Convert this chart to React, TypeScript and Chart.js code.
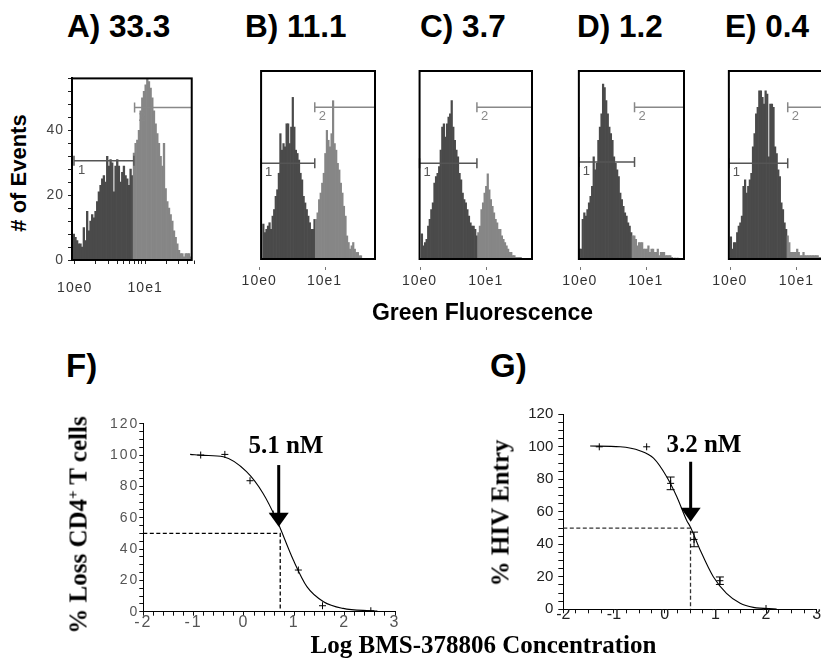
import React, { useEffect, useRef } from 'react';
import { Chart, registerables } from 'chart.js';

Chart.register(...registerables);

// ---------------- Histogram data (panels A–E) ----------------
// counts per fluorescence channel; channels are log10 bins
const HIST_BIN_WIDTH = 0.0237;
const histTitles = ['A) 33.3', 'B) 11.1', 'C) 3.7', 'D) 1.2', 'E) 0.4'];
const histBinStart = [-0.024, 0.052, 0.024, -0.014, 0.005];
const histDarkBins = [36, 34, 36, 34, 36];
const histCountsA = [8, 7, 6, 5, 5, 4, 10, 6, 15, 9, 12, 14, 13, 15, 18, 21, 23, 25, 26, 24, 32, 29, 31, 30, 21, 29, 31, 29, 24, 27, 29, 26, 25, 23, 28, 26,
  33, 36, 37, 40, 46, 50, 52, 54, 57, 55, 53, 50, 46, 42, 39, 36, 32, 29, 36, 22, 18, 16, 14, 12, 9, 7, 5, 3, 2, 2, 1, 2, 2, 2, 1, 1, 1, 1];
const histCountsB = [10.6, 8, 9, 10, 11, 9, 13, 15, 19, 21, 26, 38, 33, 35, 34, 41, 41, 35, 40, 49, 40, 33, 32, 30, 26, 24, 19, 17, 15, 13, 11, 9, 9, 12,
  12, 14, 18, 20, 23, 26, 32, 39, 36, 34, 38, 48, 35, 33, 29, 27, 23, 20, 16, 13, 7, 5, 3, 4, 5, 3, 2, 2, 1, 1, 0, 0, 0, 0, 0, 0, 0, 0];
const histCountsC = [7.6, 4, 5, 6, 10, 12, 15, 17, 23, 25, 26, 28, 33, 40, 41, 37, 41, 43, 44, 48, 40, 36, 33, 31, 26, 24, 20, 18, 17, 15, 13, 11, 10, 10, 9, 7,
  8, 10, 15, 17, 20, 22, 25.8, 21, 18, 16, 14, 12, 11, 9, 9, 7, 6, 5, 4, 3, 2, 2, 1, 1, 0.5, 0.5, 0.5, 0.5];
const histCountsD = [3, 3, 12, 14, 13, 15, 17, 19, 22, 31, 27, 29, 36, 40, 44, 53, 52, 48, 44, 40, 38, 36, 31, 29, 27, 25, 20, 18, 16, 14, 13, 11, 10, 8,
  7, 7, 6, 4, 5, 5, 5, 3, 3, 3, 4, 2, 3, 3, 2, 2, 3, 1, 2, 2, 2, 1, 1, 1, 1, 0.5, 0.3, 0.3, 0.3, 0.3];
const histCountsE = [6.7, 3, 5, 5, 8, 10, 11, 13, 22, 24, 20, 22, 24, 26, 34, 38, 44, 46, 51, 51, 49, 47, 51, 50, 31, 47, 47, 46, 34, 32, 27, 25, 17, 15, 11, 9,
  7, 5, 2, 2, 2, 2, 3, 2, 1, 1, 2, 1, 1, 1, 1, 1, 1, 1, 1, 1, 0.5, 0.5, 0.5, 0.5, 0.3, 0.3, 0.3, 0.3, 0.3, 0.3];
const histCounts = [histCountsA, histCountsB, histCountsC, histCountsD, histCountsE];

const histMajorTicks = [1, 10];
const histAllTicks = [1, 2, 3, 4, 5, 6, 7, 8, 9, 10, 20, 30, 40, 50];
const histTickLabels = ['10e0', '10e1'];
const histYTickLabels = ['0', '20', '40'];

// gates (marker 1 and marker 2)
const gate1Level = [30.6, 29, 29, 29.4, 29];
const gate1Start = [-0.01, 0.029, 0.0, -0.014, -0.014];
const gate1End = [0.84, 0.85, 0.867, 0.83, 0.87];
const gate2Level = [47, 46, 46, 46, 46];
const gate2Start = [0.85, 0.85, 0.867, 0.83, 0.87];
const gate2End = [1.661, 1.771, 1.7, 1.58, 1.565];

// ---------------- Dose-response data (panels F, G) ----------------
const doseXTickLabels = ['-2', '-1', '0', '1', '2', '3'];
const doseYTickLabels = ['0', '20', '40', '60', '80', '100', '120'];

const fCurveX = [-1.07, -0.8, -0.41, 0.05, 0.38, 0.65, 0.98, 1.25, 1.58, 1.97, 2.5, 2.65];
const fCurveY = [100.4, 99.8, 98.9, 89.4, 75.5, 58.5, 33, 16, 6.4, 2.1, 0.6, 0.4];
const fPointX = [-0.86, -0.38, 0.12, 0.58, 1.08, 1.56, 2.52];
const fPointY = [100, 100.4, 83.6, 62.3, 26.6, 3.8, 0.6];
const fPointErr = [0, 0, 0, 0, 0, 0, 0];
const fIC50 = 0.72;
const fLabel = '5.1 nM';

const gCurveX = [-1.47, -0.88, -0.49, -0.22, 0.04, 0.24, 0.43, 0.51, 0.7, 0.96, 1.22, 1.49, 1.75, 2.21];
const gCurveY = [100.5, 100, 97.6, 93, 81.6, 69.3, 55, 50.5, 36.5, 20, 9.8, 3.7, 1.2, 0.2];
const gPointX = [-1.29, -0.355, 0.118, 0.58, 1.09, 2.0];
const gPointY = [100, 100, 77.5, 43, 17.6, 0.5];
const gPointErr = [0, 0, 3.9, 4.5, 2.3, 0];
const gIC50 = 0.51;
const gLabel = '3.2 nM';

// ---------------- Layout ----------------
const SANS = '"Liberation Sans", Arial, sans-serif';
const SERIF = '"Liberation Serif", "Times New Roman", serif';
const DARK = '#4a4a4a';
const LIGHT = '#868686';

const histLayout = [
  { left: 40, top: 66, width: 170, height: 234, l: 72, t: 75, r: 192, b: 260, xMin: -0.038, xMax: 1.661, yMax: 56 },
  { left: 230, top: 60, width: 160, height: 240, l: 253, t: 71, r: 375, b: 259, xMin: 0.029, xMax: 1.771, yMax: 57 },
  { left: 390, top: 60, width: 160, height: 240, l: 413, t: 71, r: 532, b: 259, xMin: 0.0, xMax: 1.7, yMax: 57 },
  { left: 550, top: 60, width: 150, height: 240, l: 574, t: 71, r: 684, b: 259, xMin: -0.014, xMax: 1.58, yMax: 57 },
  { left: 700, top: 60, width: 150, height: 240, l: 725, t: 71, r: 834, b: 259, xMin: -0.014, xMax: 1.565, yMax: 57 },
];
const histTitleLeft = [67, 245, 420, 577, 725];

const doseF = {
  box: { left: 90, top: 405, width: 320, height: 235, l: 143.3, t: 423.7, r: 395, b: 611.7 },
  curveX: fCurveX, curveY: fCurveY, pointX: fPointX, pointY: fPointY, err: fPointErr,
  ic50: fIC50, label: fLabel, labelX: 0.833, labelY: 101.1, arrowX: 0.69, arrowTop: 93.6, arrowTip: 54.2,
  dashColor: '#000', tickColor: '#555', spacing: '2px', yPad: 0, yTick: 4, xPad: -3, xStep: 0.2, yFont: 14, xFont: 16,
};
const doseG = {
  box: { left: 505, top: 400, width: 325, height: 240, l: 563.3, t: 414.3, r: 816.7, b: 609.3 },
  curveX: gCurveX, curveY: gCurveY, pointX: gPointX, pointY: gPointY, err: gPointErr,
  ic50: gIC50, label: gLabel, labelX: 0.775, labelY: 97, arrowX: 0.513, arrowTop: 90.8, arrowTip: 53.9,
  dashColor: '#333', tickColor: '#222', spacing: '0px', yPad: 5, yTick: 5, xPad: -8, xStep: 0.25, yFont: 15, xFont: 16,
};

// ---------------- Plugins ----------------
const tickSpacing = {
  id: 'tickSpacing',
  beforeDraw(chart: any, _a: any, o: any) {
    (chart.ctx as any).letterSpacing = (o && o.value) || '0px';
  },
};

const histDecor = {
  id: 'histDecor',
  afterDatasetsDraw(chart: any, _a: any, o: any) {
    const { ctx, chartArea: ca, scales } = chart;
    const x = scales.x;
    const y = scales.y;
    ctx.save();
    (ctx as any).letterSpacing = '0px';
    const drawGate = (s: number, e: number, lv: number, color: string, label: string, capEnd: boolean) => {
      const p0 = x.getPixelForValue(s);
      const p1 = x.getPixelForValue(e);
      const py = y.getPixelForValue(lv);
      ctx.strokeStyle = color;
      ctx.lineWidth = 1.5;
      ctx.beginPath();
      ctx.moveTo(p0, py);
      ctx.lineTo(p1, py);
      ctx.moveTo(p0, py - 5);
      ctx.lineTo(p0, py + 5);
      if (capEnd) {
        ctx.moveTo(p1, py - 5);
        ctx.lineTo(p1, py + 5);
      }
      ctx.stroke();
      ctx.fillStyle = color;
      ctx.font = '13px ' + SANS;
      ctx.textAlign = 'left';
      ctx.textBaseline = 'top';
      ctx.fillText(label, p0 + 4, py + 3);
    };
    drawGate(o.g1Start, o.g1End, o.g1Level, '#555', '1', true);
    drawGate(o.g2Start, o.g2End, o.g2Level, '#888', '2', false);
    ctx.strokeStyle = '#000';
    ctx.lineWidth = 2;
    ctx.strokeRect(ca.left, ca.top, ca.right - ca.left, ca.bottom - ca.top);
    if (o.smallTicks) {
      ctx.strokeStyle = '#777';
      ctx.lineWidth = 1;
      ctx.beginPath();
      o.smallTicks.forEach((v: number) => {
        const px = Math.round(x.getPixelForValue(v)) + 0.5;
        ctx.moveTo(px, ca.bottom + 8);
        ctx.lineTo(px, ca.bottom + 11);
      });
      ctx.stroke();
    }
    ctx.restore();
  },
};

const doseDecor = {
  id: 'doseDecor',
  afterDatasetsDraw(chart: any, _a: any, o: any) {
    const { ctx, scales } = chart;
    const x = scales.x;
    const y = scales.y;
    ctx.save();
    (ctx as any).letterSpacing = '0px';
    ctx.strokeStyle = '#000';
    ctx.lineWidth = 1;
    o.pointX.forEach((xv: number, i: number) => {
      const e = o.err[i];
      if (!e) return;
      const px = x.getPixelForValue(xv);
      const top = y.getPixelForValue(o.pointY[i] + e);
      const bot = y.getPixelForValue(o.pointY[i] - e);
      ctx.beginPath();
      ctx.moveTo(px, top);
      ctx.lineTo(px, bot);
      ctx.moveTo(px - 4, top);
      ctx.lineTo(px + 4, top);
      ctx.moveTo(px - 4, bot);
      ctx.lineTo(px + 4, bot);
      ctx.stroke();
    });
    const ax = x.getPixelForValue(o.arrowX);
    const at = y.getPixelForValue(o.arrowTop);
    const tip = y.getPixelForValue(o.arrowTip);
    ctx.fillStyle = '#000';
    ctx.lineWidth = 3;
    ctx.beginPath();
    ctx.moveTo(ax, at);
    ctx.lineTo(ax, tip - 12);
    ctx.stroke();
    ctx.beginPath();
    ctx.moveTo(ax - 10, tip - 14);
    ctx.lineTo(ax + 10, tip - 14);
    ctx.lineTo(ax, tip);
    ctx.closePath();
    ctx.fill();
    ctx.font = 'bold 25px ' + SERIF;
    ctx.textAlign = 'center';
    ctx.textBaseline = 'alphabetic';
    ctx.fillText(o.label, x.getPixelForValue(o.labelX), y.getPixelForValue(o.labelY));
    ctx.restore();
  },
};

// ---------------- Chart builders ----------------
function makeHist(canvas: HTMLCanvasElement, i: number) {
  const L = histLayout[i];
  const full = i === 0;
  const yW = full ? L.l - L.left : 0;
  const counts = histCounts[i];
  const data = counts.map((c, k) => ({ x: histBinStart[i] + (k + 0.5) * HIST_BIN_WIDTH, y: c }));
  const tickList = full ? histAllTicks : histMajorTicks;
  return new Chart(canvas, {
    type: 'bar',
    data: {
      datasets: [
        {
          data: data as any,
          backgroundColor: counts.map((_, k) => (k < histDarkBins[i] ? DARK : LIGHT)),
          borderWidth: 0,
          barPercentage: 1,
          categoryPercentage: 1,
        } as any,
      ],
    },
    options: {
      animation: false,
      responsive: false,
      events: [],
      layout: { padding: { left: L.l - L.left - yW, top: L.t - L.top, right: L.left + L.width - L.r, bottom: 0 } },
      plugins: {
        legend: { display: false },
        tooltip: { enabled: false },
        tickSpacing: { value: '1px' },
        histDecor: {
          g1Start: gate1Start[i], g1End: gate1End[i], g1Level: gate1Level[i],
          g2Start: gate2Start[i], g2End: gate2End[i], g2Level: gate2Level[i],
          smallTicks: full ? null : histMajorTicks.map((v) => Math.log10(v)),
        },
      } as any,
      scales: {
        x: {
          type: 'linear',
          min: L.xMin,
          max: L.xMax,
          offset: false,
          afterFit: (s: any) => { s.height = L.top + L.height - L.b; },
          afterBuildTicks: (s: any) => { s.ticks = tickList.map((v) => ({ value: Math.log10(v) })); },
          ticks: {
            autoSkip: false,
            maxRotation: 0,
            padding: full ? 16 : 14,
            font: { family: SANS, size: 14 },
            color: '#333',
            callback: (v: any) => {
              const k = histMajorTicks.findIndex((m) => Math.abs(Math.log10(m) - v) < 1e-9);
              return k >= 0 ? histTickLabels[k] : '';
            },
          },
          grid: full
            ? { drawOnChartArea: false, tickLength: 4, color: '#000', tickColor: '#222', offset: false }
            : { display: false, drawTicks: false, offset: false },
          border: { display: full, color: '#000', width: 1.5 },
        } as any,
        y: {
          display: full,
          min: 0,
          max: L.yMax,
          afterFit: (s: any) => { s.width = yW; },
          ticks: {
            stepSize: 4,
            autoSkip: false,
            padding: 4,
            font: { family: SANS, size: 14 },
            color: '#444',
            callback: (v: any) => (Math.abs(v % 20) < 1e-6 ? histYTickLabels[Math.round(v / 20)] : ''),
          },
          grid: { drawOnChartArea: false, tickLength: 4, color: '#222', tickColor: '#222' },
          border: { color: '#000', width: 2 },
        } as any,
      },
    },
    plugins: [tickSpacing, histDecor] as any,
  });
}

function makeDose(canvas: HTMLCanvasElement, d: any) {
  const B = d.box;
  const curve = d.curveX.map((x: number, k: number) => ({ x, y: d.curveY[k] }));
  const pts = d.pointX.map((x: number, k: number) => ({ x, y: d.pointY[k] }));
  return new Chart(canvas, {
    type: 'scatter',
    data: {
      datasets: [
        {
          type: 'line',
          data: curve,
          borderColor: '#000',
          borderWidth: 1.1,
          pointRadius: 0,
          cubicInterpolationMode: 'monotone',
          fill: false,
        } as any,
        {
          type: 'line',
          data: [{ x: -2, y: 50 }, { x: d.ic50, y: 50 }, { x: d.ic50, y: 0 }],
          borderColor: d.dashColor,
          borderWidth: 1.3,
          borderDash: [4, 2.5],
          pointRadius: 0,
          tension: 0,
          fill: false,
        } as any,
        {
          type: 'scatter',
          data: pts,
          pointStyle: 'cross',
          pointRadius: 3.5,
          borderColor: '#000',
          borderWidth: 1,
          showLine: false,
        } as any,
      ],
    },
    options: {
      animation: false,
      responsive: false,
      events: [],
      layout: { padding: { left: 0, top: B.t - B.top, right: B.left + B.width - B.r, bottom: 0 } },
      plugins: {
        legend: { display: false },
        tooltip: { enabled: false },
        tickSpacing: { value: d.spacing },
        doseDecor: {
          pointX: d.pointX, pointY: d.pointY, err: d.err,
          arrowX: d.arrowX, arrowTop: d.arrowTop, arrowTip: d.arrowTip,
          label: d.label, labelX: d.labelX, labelY: d.labelY,
        },
      } as any,
      scales: {
        x: {
          type: 'linear',
          min: -2,
          max: 3,
          afterFit: (s: any) => { s.height = B.top + B.height - B.b; },
          ticks: {
            stepSize: d.xStep,
            autoSkip: false,
            maxRotation: 0,
            padding: d.xPad,
            font: { family: SANS, size: d.xFont, lineHeight: 1.2 },
            color: d.tickColor,
            callback: (v: any) => (Math.abs(v - Math.round(v)) < 1e-6 ? doseXTickLabels[Math.round(v) + 2] : ''),
          },
          grid: { drawOnChartArea: false, tickLength: 4, color: '#000', tickColor: '#111' },
          border: { color: '#000', width: 1 },
        } as any,
        y: {
          type: 'linear',
          min: 0,
          max: 120,
          afterFit: (s: any) => { s.width = B.l - B.left; },
          ticks: {
            stepSize: 5,
            autoSkip: false,
            padding: d.yPad,
            font: { family: SANS, size: d.yFont },
            color: d.tickColor,
            callback: (v: any) => (Math.abs(v % 20) < 1e-6 ? doseYTickLabels[Math.round(v / 20)] : ''),
          },
          grid: { drawOnChartArea: false, tickLength: d.yTick, color: '#000', tickColor: '#111' },
          border: { color: '#000', width: 1 },
        } as any,
      },
    },
    plugins: [tickSpacing, doseDecor] as any,
  });
}

// ---------------- Component ----------------
const abs = (o: React.CSSProperties): React.CSSProperties => ({
  position: 'absolute',
  whiteSpace: 'nowrap',
  lineHeight: 1,
  color: '#000',
  margin: 0,
  ...o,
});

export default function App() {
  const histRefs = useRef<(HTMLCanvasElement | null)[]>([]);
  const fRef = useRef<HTMLCanvasElement | null>(null);
  const gRef = useRef<HTMLCanvasElement | null>(null);

  useEffect(() => {
    const charts: Chart[] = [];
    histLayout.forEach((_, i) => {
      const c = histRefs.current[i];
      if (c) charts.push(makeHist(c, i));
    });
    if (fRef.current) charts.push(makeDose(fRef.current, doseF));
    if (gRef.current) charts.push(makeDose(gRef.current, doseG));
    return () => charts.forEach((c) => c.destroy());
  }, []);

  return (
    <div style={{ position: 'absolute', left: 0, top: 0, width: 821, height: 659, overflow: 'hidden', background: '#fff' }}>
      {histLayout.map((L, i) => (
        <canvas
          key={'h' + i}
          ref={(el) => { histRefs.current[i] = el; }}
          width={L.width}
          height={L.height}
          style={{ position: 'absolute', left: L.left, top: L.top }}
        />
      ))}
      <canvas ref={fRef} width={doseF.box.width} height={doseF.box.height} style={{ position: 'absolute', left: doseF.box.left, top: doseF.box.top }} />
      <canvas ref={gRef} width={doseG.box.width} height={doseG.box.height} style={{ position: 'absolute', left: doseG.box.left, top: doseG.box.top }} />

      {histTitles.map((t, i) => (
        <div key={'t' + i} style={abs({ left: histTitleLeft[i], top: 11.3, fontFamily: SANS, fontWeight: 'bold', fontSize: 31.5 })}>{t}</div>
      ))}
      <div style={abs({ left: 19, top: 173, fontFamily: SANS, fontWeight: 'bold', fontSize: 22, transform: 'translate(-50%, -50%) rotate(-90deg)' })}># of Events</div>
      <div style={abs({ left: 482.5, top: 301, fontFamily: SANS, fontWeight: 'bold', fontSize: 23, transform: 'translateX(-50%)' })}>Green Fluorescence</div>

      <div style={abs({ left: 66, top: 349, fontFamily: SANS, fontWeight: 'bold', fontSize: 33 })}>F)</div>
      <div style={abs({ left: 490, top: 349, fontFamily: SANS, fontWeight: 'bold', fontSize: 33 })}>G)</div>

      <div style={abs({ left: 78, top: 524.5, fontFamily: SERIF, fontWeight: 'bold', fontSize: 25, transform: 'translate(-50%, -50%) rotate(-90deg)' })}>
        % Loss CD4<sup style={{ fontSize: '0.6em', verticalAlign: 'super', lineHeight: 0 }}>+</sup> T cells
      </div>
      <div style={abs({ left: 500, top: 512.5, fontFamily: SERIF, fontWeight: 'bold', fontSize: 25, transform: 'translate(-50%, -50%) rotate(-90deg)' })}>% HIV Entry</div>
      <div style={abs({ left: 483.5, top: 644, fontFamily: SERIF, fontWeight: 'bold', fontSize: 25, transform: 'translate(-50%, -50%)' })}>Log BMS-378806 Concentration</div>
    </div>
  );
}
